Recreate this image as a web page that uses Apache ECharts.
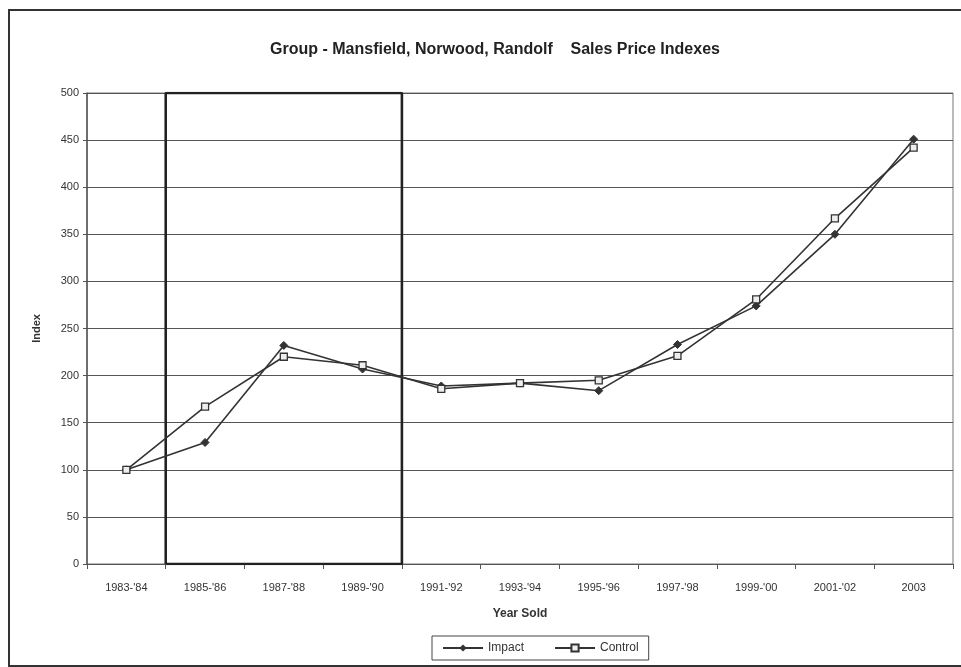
<!DOCTYPE html>
<html><head><meta charset="utf-8">
<script src="https://cdn.jsdelivr.net/npm/echarts@6/dist/echarts.min.js"></script>
<style>html,body{margin:0;padding:0;background:#fff}#c{width:961px;height:667px}</style>
</head><body><div id="c"></div>
<script>
const categories = ["1983-'84","1985-'86","1987-'88","1989-'90","1991-'92","1993-'94","1995-'96","1997-'98","1999-'00","2001-'02","2003"];
const impact  = [100,129,232,207,189,192,184,233,274,350,451];
const control = [100,167,220,211,186,192,195,221,281,367,442];
const yTicks = {min:0, max:500, interval:50};
const boxX = [0.5,0.5,3.5,3.5,0.5];
const boxY = [0,500,500,0,0];

const FONT = "'Liberation Sans Narrow','Liberation Sans',Arial,sans-serif";
const chart = echarts.init(document.getElementById('c'));
chart.setOption({
  animation:false,
  backgroundColor:'#fff',
  title:{text:'Group - Mansfield, Norwood, Randolf    Sales Price Indexes', left:490, top:37, textAlign:'center',
    textStyle:{fontFamily:FONT, fontSize:16, fontWeight:'bold', color:'#222'}},
  graphic:[{type:'rect', shape:{x:9,y:10,width:960,height:656}, style:{fill:'none', stroke:'#333', lineWidth:2}, silent:true}],
  grid:{left:87, right:8, top:93, bottom:103, show:true, borderColor:'#777', borderWidth:1},
  legend:{bottom:7, left:432, itemGap:30, itemWidth:40, itemHeight:9, padding:[6,10,6,10],
    borderColor:'#444', borderWidth:1, textStyle:{fontFamily:FONT, fontSize:12, color:'#333'},
    data:['Impact','Control']},
  xAxis:[{type:'category', data:categories, boundaryGap:true,
    name:'Year Sold', nameLocation:'middle', nameGap:44,
    nameTextStyle:{fontFamily:FONT, fontSize:12, fontWeight:'bold', color:'#333'},
    axisLine:{lineStyle:{color:'#555', width:1}}, axisTick:{show:true, lineStyle:{color:'#555'}},
    axisLabel:{fontFamily:FONT, fontSize:11, color:'#333', margin:18, interval:0}},
   {type:'value', min:-0.5, max:10.5, show:false}],
  yAxis:{type:'value', min:yTicks.min, max:yTicks.max, interval:yTicks.interval,
    name:'Index', nameLocation:'middle', nameGap:45, nameRotate:90,
    nameTextStyle:{fontFamily:FONT, fontSize:11, fontWeight:'bold', color:'#333'},
    axisLine:{show:true, onZero:false, lineStyle:{color:'#555', width:1.5}}, axisTick:{show:true, length:4, lineStyle:{color:'#555'}},
    axisLabel:{fontFamily:FONT, fontSize:11, color:'#333', margin:8},
    splitLine:{lineStyle:{color:'#555', width:1}}},
  series:[
    {name:'Impact', type:'line', data:impact, symbol:'diamond', symbolSize:8,
     lineStyle:{color:'#333', width:1.6}, itemStyle:{color:'#333', borderColor:'#333'}},
    {name:'Control', type:'line', data:control, symbol:'rect', symbolSize:7,
     lineStyle:{color:'#333', width:1.6}, itemStyle:{color:'#eee', borderColor:'#333', borderWidth:1.3}},
    {name:'box', type:'line', xAxisIndex:1, data:boxX.map((x,i)=>[x,boxY[i]]), symbol:'none',
     lineStyle:{color:'#222', width:2.6}, silent:true, z:1}
  ]
});
</script></body></html>
